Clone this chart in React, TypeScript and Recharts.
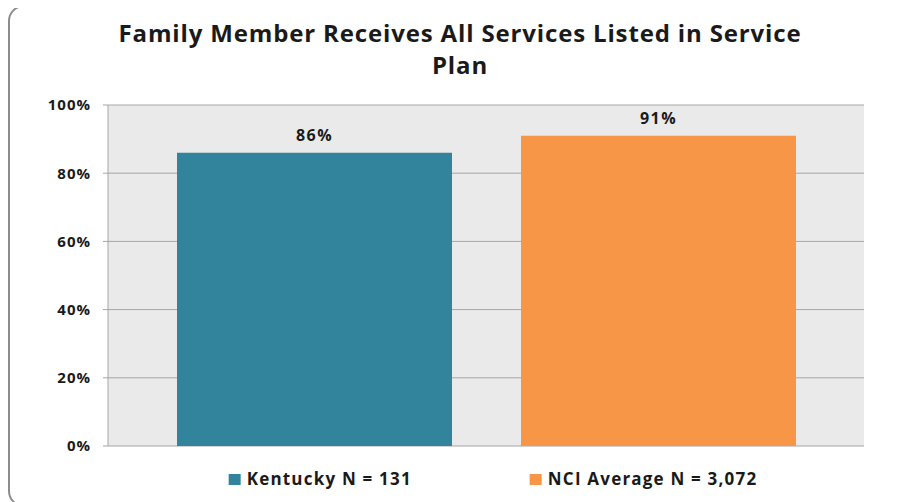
import React from "react";
import { BarChart, Bar, XAxis, YAxis, CartesianGrid, LabelList } from "recharts";

const categories = [""];
const seriesNames = ["Kentucky N = 131", "NCI Average N = 3,072"];
const kentucky = [86];
const nciAverage = [91];
const yTicks = [0, 20, 40, 60, 80, 100];

const colors = ["#31849b", "#f79646"];
const FONT = "'Open Sans', sans-serif";

const data = categories.map((c, i) => ({
  name: c,
  kentucky: kentucky[i],
  nci: nciAverage[i],
}));

const labelStyle = {
  fill: "#1a1a1a",
  fontSize: 16,
  fontWeight: 700,
  fontFamily: FONT,
  letterSpacing: 1.5,
};

const App: React.FC = () => {
  return (
    <div
      style={{
        position: "relative",
        width: 902,
        height: 502,
        marginTop: -3,
        border: "2px solid #8c8c8c",
        borderRadius: 16,
        boxSizing: "border-box",
        fontFamily: FONT,
        background: "#fff",
      }}
    >
      <style>{`body{overflow:hidden}`}</style>
      <div
        style={{
          position: "absolute",
          top: 10,
          left: 0,
          width: 900,
          textAlign: "center",
          fontWeight: 700,
          fontSize: 24,
          letterSpacing: 0.85,
          lineHeight: "32px",
          color: "#1a1a1a",
        }}
      >
        Family Member Receives All Services Listed in Service
        <br />
        Plan
      </div>
      <BarChart
        width={888}
        height={460}
        data={data}
        margin={{ top: 98, right: 34, bottom: 21, left: 0 }}
        barCategoryGap={69}
        barGap={69}
      >
        <CartesianGrid vertical={false} stroke="#a6a6a6" fill="#eaeaea" />
        <XAxis dataKey="name" tick={false} height={0} stroke="#a6a6a6" />
        <YAxis
          width={98}
          domain={[0, 100]}
          ticks={yTicks}
          interval={0}
          tickFormatter={(v: number) => `${v}%`}
          stroke="#a6a6a6"
          tickSize={5}
          tickMargin={12}
          tick={{
            fill: "#1a1a1a",
            fontSize: 15,
            fontWeight: 700,
            fontFamily: FONT,
            letterSpacing: 1,
          }}
        />
        <Bar dataKey="kentucky" name={seriesNames[0]} fill={colors[0]} isAnimationActive={false}>
          <LabelList
            dataKey="kentucky"
            position="top"
            offset={12}
            formatter={(v: any) => `${v}%`}
            style={labelStyle}
          />
        </Bar>
        <Bar dataKey="nci" name={seriesNames[1]} fill={colors[1]} isAnimationActive={false}>
          <LabelList
            dataKey="nci"
            position="top"
            offset={12}
            formatter={(v: any) => `${v}%`}
            style={labelStyle}
          />
        </Bar>
      </BarChart>
      <div
        style={{
          position: "absolute",
          top: 462,
          left: 483,
          transform: "translateX(-50%)",
          display: "flex",
          gap: 118,
          whiteSpace: "nowrap",
          fontWeight: 700,
          fontSize: 17,
          letterSpacing: 1.2,
          lineHeight: "20px",
          color: "#1a1a1a",
        }}
      >
        {seriesNames.map((s, i) => (
          <div key={s} style={{ display: "flex", alignItems: "center" }}>
            <span
              style={{
                display: "inline-block",
                width: 12,
                height: 11,
                background: colors[i],
                marginRight: 6,
              }}
            />
            {s}
          </div>
        ))}
      </div>
    </div>
  );
};

export default App;
